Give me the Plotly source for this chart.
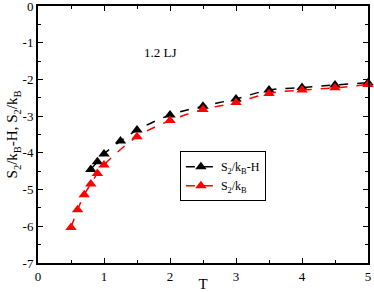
import plotly.graph_objects as go

T_black = [0.8, 0.9, 1.0, 1.25, 1.5, 2.0, 2.5, 3.0, 3.5, 4.0, 4.5, 5.0]
S_black = [-4.45, -4.24, -4.03, -3.68, -3.38, -2.97, -2.73, -2.53, -2.29, -2.22, -2.15, -2.09]
T_red = [0.5, 0.6, 0.7, 0.8, 0.9, 1.0, 1.5, 2.0, 2.5, 3.0, 3.5, 4.0, 4.5, 5.0]
S_red = [-6.03, -5.55, -5.14, -4.85, -4.56, -4.33, -3.56, -3.12, -2.82, -2.63, -2.38, -2.29, -2.23, -2.14]

x_ticks = [0, 1, 2, 3, 4, 5]
y_ticks = [0, -1, -2, -3, -4, -5, -6, -7]
y_labels = ["0", "-1", "-2", "-3", "-4", "-5", "-6", "-7"]

FONT = "Liberation Serif"

fig = go.Figure()
fig.add_trace(go.Scatter(
    x=T_black, y=S_black, mode="lines+markers", name="S<sub>2</sub>/k<sub>B</sub>-H",
    line=dict(color="black", dash="dash", width=1.5, shape="spline"),
    marker=dict(symbol="triangle-up", size=10, color="black"), cliponaxis=False))
fig.add_trace(go.Scatter(
    x=T_red, y=S_red, mode="lines+markers", name="S<sub>2</sub>/k<sub>B</sub>",
    line=dict(color="red", dash="dash", width=1.5, shape="spline"),
    marker=dict(symbol="triangle-up", size=10, color="red"), cliponaxis=False))

fig.add_annotation(x=1.85, y=-1.26, text="1.2 LJ", showarrow=False,
                   font=dict(family=FONT, size=13, color="black"))

axis_common = dict(showline=True, linecolor="black", linewidth=2, mirror="ticks",
                   ticks="inside", ticklen=5, tickwidth=1, tickcolor="black",
                   showgrid=False, zeroline=False, automargin=False,
                   ticklabeloverflow="allow",
                   tickfont=dict(family=FONT, size=13, color="black"))
fig.update_xaxes(range=[0, 5], tickvals=x_ticks, ticktext=[str(v) for v in x_ticks],
                 minor=dict(ticks="inside", ticklen=3, dtick=0.5, tickcolor="black"),
                 title=dict(text="T", font=dict(family=FONT, size=15, color="black"), standoff=0),
                 **axis_common)
fig.update_yaxes(range=[-7, 0], tickvals=y_ticks, ticktext=y_labels,
                 minor=dict(ticks="inside", ticklen=3, dtick=0.5, tickcolor="black"),
                 title=dict(text="S<sub>2</sub>/k<sub>B</sub>-H, S<sub>2</sub>/k<sub>B</sub>",
                            font=dict(family=FONT, size=15, color="black"), standoff=0),
                 **axis_common)

fig.update_layout(
    width=374, height=292,
    margin=dict(l=38, r=6, t=6, b=29),
    plot_bgcolor="white", paper_bgcolor="white",
    font=dict(family=FONT, color="black"),
    legend=dict(x=0.43, y=0.435, xanchor="left", yanchor="top",
                bgcolor="white", bordercolor="black", borderwidth=1,
                font=dict(family=FONT, size=12, color="black"),
                itemwidth=30, tracegroupgap=0),
)

fig.write_html("out.html", config={"displayModeBar": False},
               post_script="document.body.style.margin='0';document.body.style.padding='0';document.body.style.overflow='hidden';")
